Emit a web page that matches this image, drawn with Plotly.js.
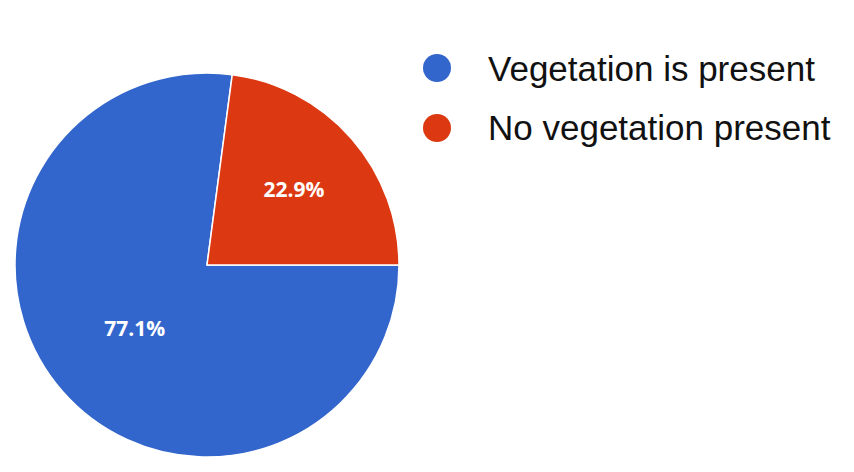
<!DOCTYPE html>
<html>
<head>
<meta charset="utf-8">
<script src="https://cdn.plot.ly/plotly-3.0.1.min.js"></script>
<style>
  html, body { margin: 0; padding: 0; background: #ffffff; }
  #chart { width: 854px; height: 472px; }
</style>
</head>
<body>
<div id="chart"></div>
<script>
const labels = ['Vegetation is present', 'No vegetation present'];
const values = [77.1, 22.9];
const colors = ['#3366cc', '#dc3912'];

const W = 854, H = 472;

const pieTrace = {
  type: 'pie',
  labels: labels,
  values: values,
  sort: false,
  direction: 'clockwise',
  rotation: 90,
  marker: { colors: colors, line: { color: '#ffffff', width: 1.5 } },
  texttemplate: '%{percent:.1%}',
  textposition: 'inside',
  insidetextorientation: 'horizontal',
  textfont: { family: 'Open Sans, sans-serif', size: 21, color: '#ffffff', weight: 'bold' },
  hoverinfo: 'label+percent',
  showlegend: false,
  domain: { x: [15 / W, 399 / W], y: [1 - 457 / H, 1 - 73 / H] }
};

// legend drawn by hand so the markers can be large circles
const shapes = [];
const annotations = [];
labels.forEach((lab, i) => {
  const cy = 1 - (68 + i * 60) / H;
  const r = 14;
  shapes.push({
    type: 'circle', xref: 'paper', yref: 'paper',
    x0: (437 - r) / W, x1: (437 + r) / W,
    y0: cy - r / H, y1: cy + r / H,
    fillcolor: colors[i], line: { width: 0 }
  });
  annotations.push({
    xref: 'paper', yref: 'paper', x: 486 / W, y: cy,
    xanchor: 'left', yanchor: 'middle', showarrow: false,
    text: lab,
    font: { family: 'Liberation Sans, Arial, sans-serif', size: 35, color: '#111111' }
  });
});

const layout = {
  width: W,
  height: H,
  margin: { l: 0, r: 0, t: 0, b: 0 },
  paper_bgcolor: '#ffffff',
  plot_bgcolor: '#ffffff',
  showlegend: false,
  shapes: shapes,
  annotations: annotations
};

Plotly.newPlot('chart', [pieTrace], layout, { displayModeBar: false, staticPlot: true });
</script>
</body>
</html>
